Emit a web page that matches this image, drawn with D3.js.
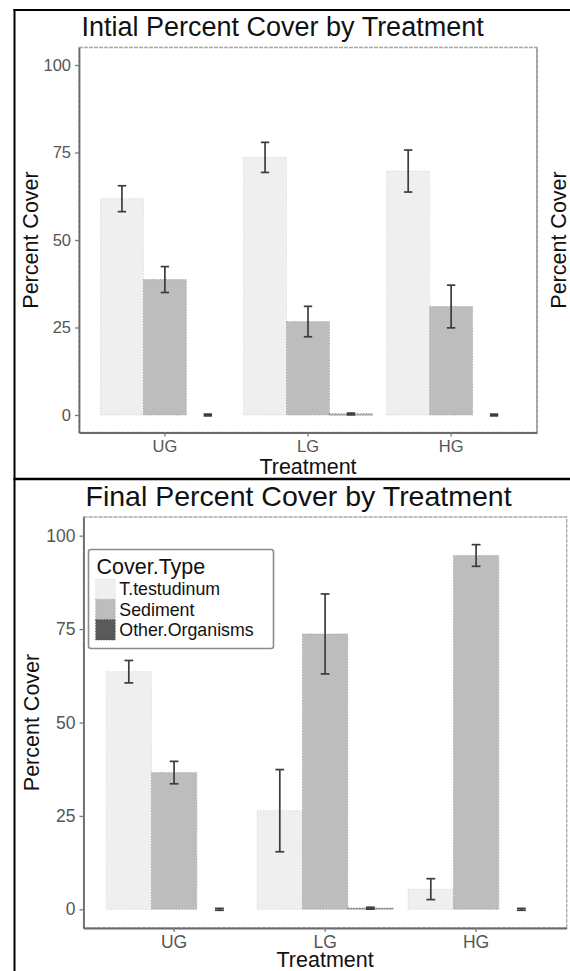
<!DOCTYPE html>
<html>
<head>
<meta charset="utf-8">
<script src="https://cdn.jsdelivr.net/npm/d3@7"></script>
<style>
  html, body { margin: 0; padding: 0; background: #fff; }
  svg { display: block; }
  text { font-family: "Liberation Sans", Arial, Helvetica, sans-serif; }
</style>
</head>
<body>
<svg id="chart" width="570" height="971"></svg>
<script>
// ---------------- DATA ----------------
const categories = ["UG", "LG", "HG"];
const coverTypes = ["T.testudinum", "Sediment", "Other.Organisms"];
const yTicks = [0, 25, 50, 75, 100];

// Initial percent cover (means and error half-widths) per cover type, by treatment
const initialTestudinum    = [61.8, 73.6, 69.7];
const initialTestudinumErr = [3.7, 4.3, 6.0];
const initialSediment      = [38.7, 26.7, 31.0];
const initialSedimentErr   = [3.7, 4.35, 6.1];
const initialOther         = [0, 0.3, 0];
const initialOtherErr      = [0.25, 0.25, 0.25];

// Final percent cover
const finalTestudinum    = [63.6, 26.4, 5.4];
const finalTestudinumErr = [3.0, 11.0, 2.8];
const finalSediment      = [36.6, 73.7, 94.7];
const finalSedimentErr   = [3.0, 10.7, 2.9];
const finalOther         = [0, 0.3, 0];
const finalOtherErr      = [0.25, 0.25, 0.25];

// ---------------- DRAW ----------------
const svg = d3.select("#chart");
const fillColor = d3.scaleOrdinal().domain(coverTypes).range(["#efefef", "#bdbdbd", "#5a5a5a"]);
const edgeColor = d3.scaleOrdinal().domain(coverTypes).range(["#d6d6d6", "#a4a4a4", "#444"]);

function buildRows(means, errs) {
  return categories.map((c, i) => ({
    cat: c,
    vals: coverTypes.map((t, j) => ({ type: t, mean: means[j][i], err: errs[j][i] }))
  }));
}

function drawPanel(cfg) {
  const g = svg.append("g");
  const x = d3.scaleBand().domain(categories).range([cfg.L, cfg.R])
    .paddingInner(0.1).paddingOuter(0.15);
  const xs = d3.scaleBand().domain(coverTypes).range([0, x.bandwidth()]).padding(0);
  const y = d3.scaleLinear().domain([-5, 105]).range([cfg.B, cfg.T]);

  g.append("rect")
    .attr("x", cfg.L).attr("y", cfg.T)
    .attr("width", cfg.R - cfg.L).attr("height", cfg.B - cfg.T)
    .attr("fill", "none").attr("stroke", "#a8a8a8").attr("stroke-width", 1.3)
    .attr("stroke-dasharray", "4,1");

  const rows = buildRows(cfg.means, cfg.errs);

  const grp = g.selectAll(".grp").data(rows).enter().append("g")
    .attr("transform", d => `translate(${x(d.cat)},0)`);
  grp.selectAll("rect").data(d => d.vals).enter().append("rect")
    .attr("x", d => xs(d.type))
    .attr("width", xs.bandwidth())
    .attr("y", d => y(d.mean))
    .attr("height", d => Math.max(0, y(0) - y(d.mean)))
    .attr("fill", d => fillColor(d.type))
    .attr("stroke", d => d.mean > 0 ? edgeColor(d.type) : "none")
    .attr("stroke-width", 0.9)
    .attr("stroke-dasharray", "1.2,1.6");

  grp.selectAll(".tiny").data(d => d.vals.filter(v => v.mean > 0 && v.mean < 1)).enter()
    .append("line")
    .attr("x1", d => xs(d.type)).attr("x2", d => xs(d.type) + xs.bandwidth())
    .attr("y1", y(0)).attr("y2", y(0))
    .attr("stroke", "#c8c8c8").attr("stroke-width", 1.6);

  const ew = x.bandwidth() * cfg.whisker;
  const eb = grp.selectAll(".eb").data(d => d.vals).enter().append("g")
    .attr("stroke", "#3c3c3c").attr("stroke-width", 1.7).attr("fill", "none");
  eb.append("line")
    .attr("x1", d => xs(d.type) + xs.bandwidth() / 2)
    .attr("x2", d => xs(d.type) + xs.bandwidth() / 2)
    .attr("y1", d => y(d.mean + d.err)).attr("y2", d => y(d.mean - d.err));
  eb.append("line")
    .attr("x1", d => xs(d.type) + xs.bandwidth() / 2 - ew / 2)
    .attr("x2", d => xs(d.type) + xs.bandwidth() / 2 + ew / 2)
    .attr("y1", d => y(d.mean + d.err)).attr("y2", d => y(d.mean + d.err));
  eb.append("line")
    .attr("x1", d => xs(d.type) + xs.bandwidth() / 2 - ew / 2)
    .attr("x2", d => xs(d.type) + xs.bandwidth() / 2 + ew / 2)
    .attr("y1", d => y(d.mean - d.err)).attr("y2", d => y(d.mean - d.err));

  const ya = g.append("g").attr("transform", `translate(${cfg.L},0)`)
    .call(d3.axisLeft(y).tickValues(yTicks).tickSize(4).tickSizeOuter(0).tickPadding(cfg.tickPad));
  const xa = g.append("g").attr("transform", `translate(0,${cfg.B})`)
    .call(d3.axisBottom(x).tickSize(4).tickSizeOuter(0).tickPadding(cfg.xTickPad));
  [ya, xa].forEach(a => {
    a.select(".domain").attr("stroke", "#6a6a6a").attr("stroke-width", 1.8);
    a.selectAll(".tick line").attr("stroke", "#7a7a7a").attr("stroke-width", 1.3);
    a.selectAll(".tick text").attr("fill", "#555").attr("font-size", cfg.tickFont)
      .attr("font-family", "Liberation Sans, Arial, sans-serif");
  });

  g.append("text").attr("x", cfg.titleX).attr("y", cfg.titleY)
    .attr("font-size", cfg.titleFont).attr("fill", "#111").text(cfg.title);
  g.append("text").attr("x", (cfg.L + cfg.R) / 2).attr("y", cfg.xTitleY)
    .attr("text-anchor", "middle").attr("font-size", cfg.axisFont).attr("fill", "#111")
    .text("Treatment");
  g.append("text")
    .attr("transform", `translate(${cfg.yTitleX},${(cfg.T + cfg.B) / 2}) rotate(-90)`)
    .attr("text-anchor", "middle").attr("font-size", cfg.axisFont).attr("fill", "#111")
    .text("Percent Cover");
  return { x, y };
}

drawPanel({
  L: 79, R: 537, T: 47.5, B: 432.5,
  means: [initialTestudinum, initialSediment, initialOther],
  errs: [initialTestudinumErr, initialSedimentErr, initialOtherErr],
  whisker: 0.065, tickPad: 4, xTickPad: 4, tickFont: 16.5,
  title: "Intial Percent Cover by Treatment", titleX: 81.5, titleY: 36.3, titleFont: 27,
  xTitleY: 474, yTitleX: 38.3, axisFont: 21.5, xTitleFont: 21.5
});

drawPanel({
  L: 83.5, R: 566.7, T: 517, B: 928,
  means: [finalTestudinum, finalSediment, finalOther],
  errs: [finalTestudinumErr, finalSedimentErr, finalOtherErr],
  whisker: 0.065, tickPad: 4, xTickPad: 3.5, tickFont: 17.5,
  title: "Final Percent Cover by Treatment", titleX: 85.5, titleY: 506, titleFont: 28.5,
  xTitleY: 967, yTitleX: 39.3, axisFont: 21.5
});

svg.append("line").attr("x1", 537).attr("x2", 537).attr("y1", 47.5).attr("y2", 432.5)
  .attr("stroke", "#8a8a8a").attr("stroke-width", 1.2);
svg.append("text")
  .attr("transform", `translate(566,240) rotate(-90)`)
  .attr("text-anchor", "middle").attr("font-size", 21.5).attr("fill", "#111")
  .text("Percent Cover");

const lg = svg.append("g");
lg.append("rect").attr("x", 88.5).attr("y", 549.5).attr("width", 185).attr("height", 99)
  .attr("rx", 2.5).attr("fill", "#fff").attr("stroke", "#8c8c8c").attr("stroke-width", 1.6);
lg.append("text").attr("x", 96.5).attr("y", 574.3).attr("font-size", 21.5).attr("fill", "#111")
  .text("Cover.Type");
const keyY = d3.scaleBand().domain(coverTypes).range([579, 640]).padding(0);
coverTypes.forEach(t => {
  lg.append("rect").attr("x", 95.7).attr("y", keyY(t)).attr("width", 19.5).attr("height", keyY.bandwidth())
    .attr("fill", fillColor(t)).attr("stroke", edgeColor(t)).attr("stroke-width", 0.8)
    .attr("stroke-dasharray", "1.2,1.6");
  lg.append("text").attr("x", 119.3).attr("y", keyY(t) + keyY.bandwidth() / 2 + 6.2)
    .attr("font-size", 17.8).attr("fill", "#111").text(t);
});

const frame = svg.append("g").attr("stroke", "#000").attr("fill", "none");
frame.append("line").attr("x1", 13.5).attr("x2", 570).attr("y1", 10).attr("y2", 10).attr("stroke-width", 2);
frame.append("line").attr("x1", 14.5).attr("x2", 14.5).attr("y1", 9).attr("y2", 971).attr("stroke-width", 2);
frame.append("line").attr("x1", 13.5).attr("x2", 570).attr("y1", 479).attr("y2", 479).attr("stroke-width", 2.6);
</script>
</body>
</html>
